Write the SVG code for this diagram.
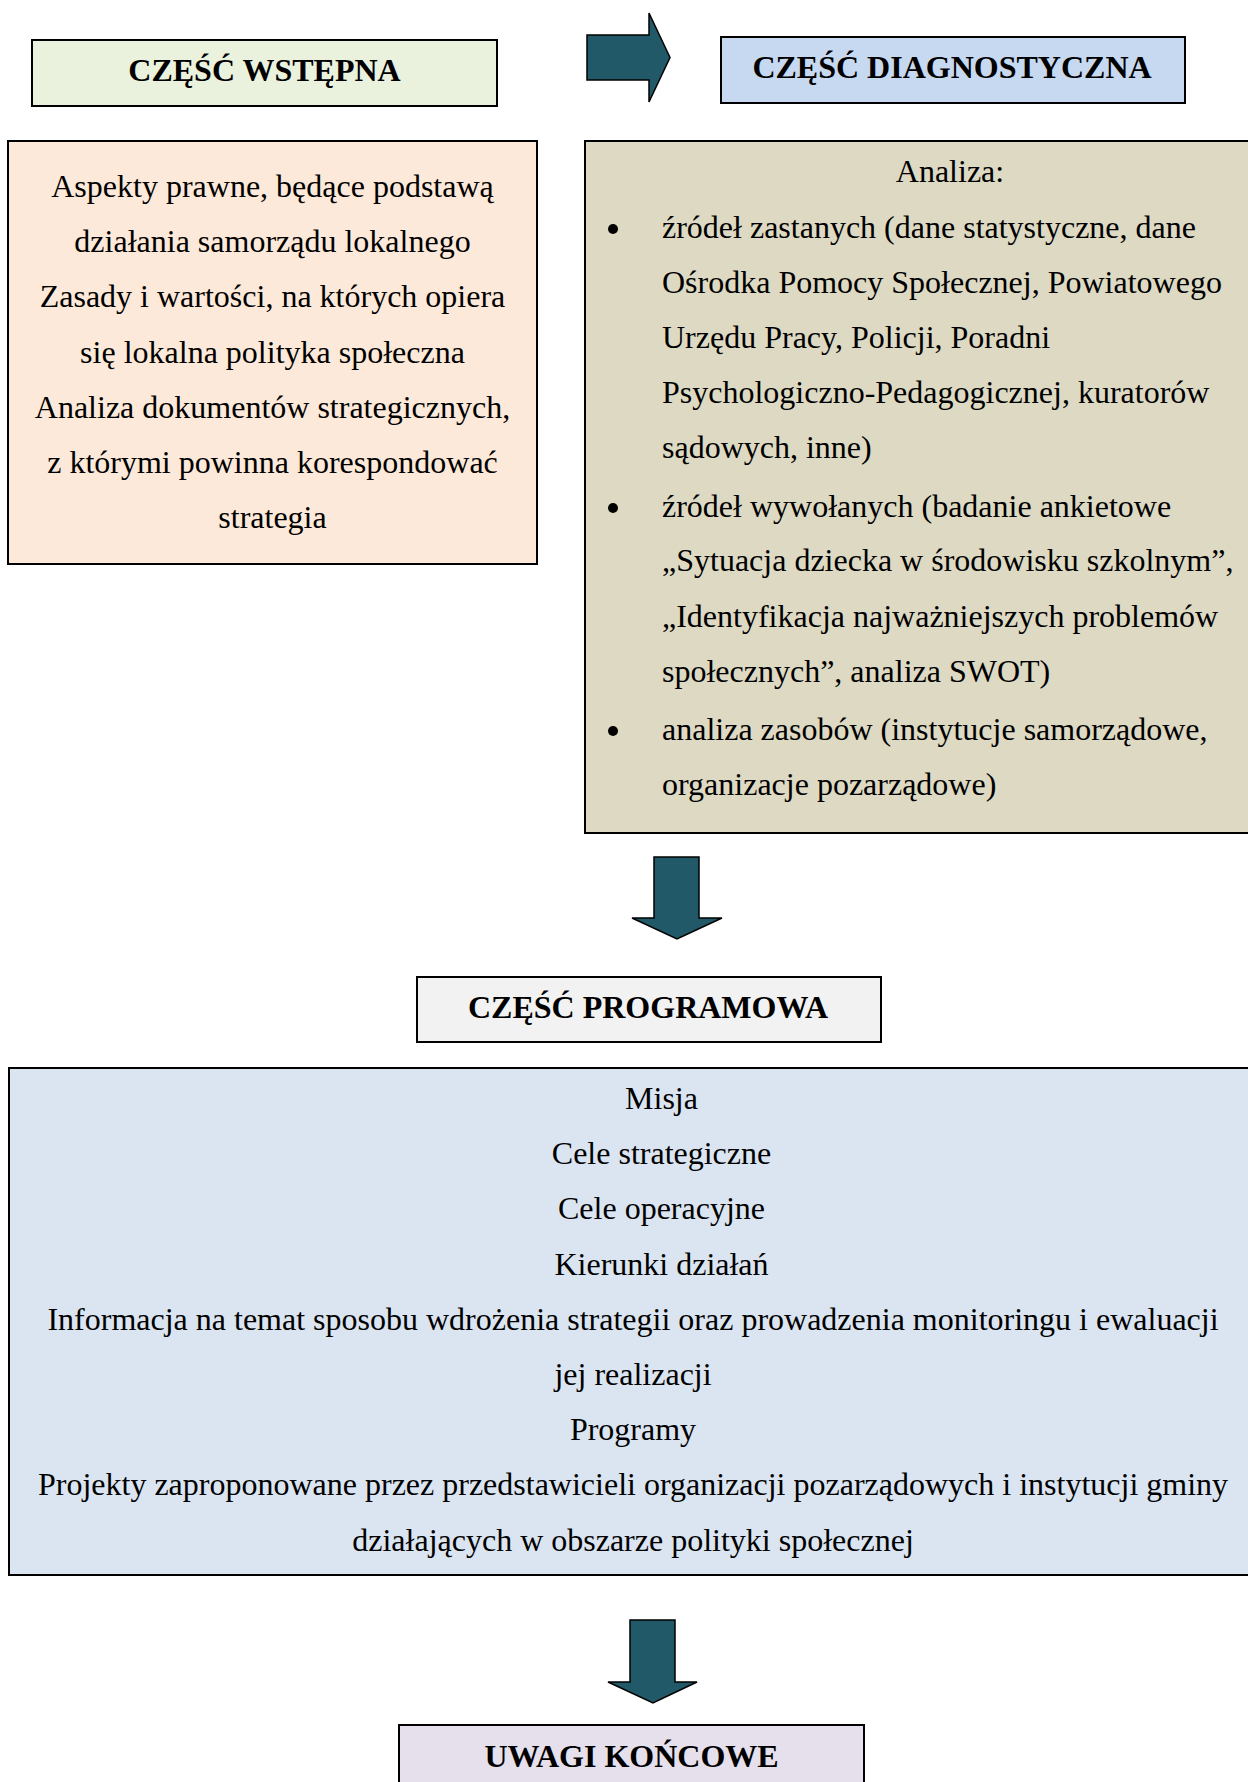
<svg xmlns="http://www.w3.org/2000/svg" width="1248" height="1782" viewBox="0 0 1248 1782">
<style>
  .box { stroke: #000; stroke-width: 2; }
  .title { font-family: "Liberation Serif", "Times New Roman", serif; font-weight: bold; font-size: 32px; fill: #000; text-anchor: middle; }
  .body { font-family: "Liberation Serif", "Times New Roman", serif; font-size: 32px; fill: #000; }
  .c { text-anchor: middle; }
  .arrow { fill: #215968; stroke: #000; stroke-width: 1.5; stroke-linejoin: miter; }
</style>
<rect width="1248" height="1782" fill="#fff"/>

<g id="connectors">
  <path class="arrow" d="M587,35 L649,35 L649,13 L670,57.5 L649,102 L649,80 L587,80 Z"/>
  <path class="arrow" d="M654,857 L699,857 L699,918 L722,918 L677,939 L632,918 L654,918 Z"/>
  <path class="arrow" d="M630,1620 L675,1620 L675,1682 L697,1682 L653,1703 L608,1682 L630,1682 Z"/>
</g>

<g id="czesc-wstepna">
  <rect class="box" x="32" y="40" width="465" height="66" fill="#EAF1DD"/>
  <text class="title" x="264.5" y="81">CZĘŚĆ WSTĘPNA</text>
</g>

<g id="czesc-diagnostyczna">
  <rect class="box" x="721" y="37" width="464" height="66" fill="#C6D9F1"/>
  <text class="title" x="952" y="78">CZĘŚĆ DIAGNOSTYCZNA</text>
</g>

<g id="wstepna-tresc">
  <rect class="box" x="8" y="141" width="529" height="423" fill="#FDE9D9"/>
  <text class="body c" x="272.5" y="197">Aspekty prawne, będące podstawą</text>
  <text class="body c" x="272.5" y="252">działania samorządu lokalnego</text>
  <text class="body c" x="272.5" y="307">Zasady i wartości, na których opiera</text>
  <text class="body c" x="272.5" y="363">się lokalna polityka społeczna</text>
  <text class="body c" x="272.5" y="418">Analiza dokumentów strategicznych,</text>
  <text class="body c" x="272.5" y="473">z którymi powinna korespondować</text>
  <text class="body c" x="272.5" y="528">strategia</text>
</g>

<g id="diagnostyczna-tresc">
  <rect class="box" x="585" y="141" width="680" height="692" fill="#DDD9C3"/>
  <text class="body c" x="950" y="182">Analiza:</text>
  <circle cx="613" cy="229" r="5" fill="#000"/>
  <text class="body" x="662" y="238">źródeł zastanych (dane statystyczne, dane</text>
  <text class="body" x="662" y="293">Ośrodka Pomocy Społecznej, Powiatowego</text>
  <text class="body" x="662" y="348">Urzędu Pracy, Policji, Poradni</text>
  <text class="body" x="662" y="403">Psychologiczno-Pedagogicznej, kuratorów</text>
  <text class="body" x="662" y="458">sądowych, inne)</text>
  <circle cx="613" cy="508" r="5" fill="#000"/>
  <text class="body" x="662" y="517">źródeł wywołanych (badanie ankietowe</text>
  <text class="body" x="662" y="571">„Sytuacja dziecka w środowisku szkolnym”,</text>
  <text class="body" x="662" y="627">„Identyfikacja najważniejszych problemów</text>
  <text class="body" x="662" y="682">społecznych”, analiza SWOT)</text>
  <circle cx="613" cy="731" r="5" fill="#000"/>
  <text class="body" x="662" y="740">analiza zasobów (instytucje samorządowe,</text>
  <text class="body" x="662" y="795">organizacje pozarządowe)</text>
</g>

<g id="czesc-programowa">
  <rect class="box" x="417" y="977" width="464" height="65" fill="#F2F2F2"/>
  <text class="title" x="648" y="1018">CZĘŚĆ PROGRAMOWA</text>
</g>

<g id="programowa-tresc">
  <rect class="box" x="9" y="1068" width="1260" height="507" fill="#DBE5F1"/>
  <text class="body c" x="661.5" y="1109">Misja</text>
  <text class="body c" x="661.5" y="1164">Cele strategiczne</text>
  <text class="body c" x="661.5" y="1219">Cele operacyjne</text>
  <text class="body c" x="661.5" y="1275">Kierunki działań</text>
  <text class="body c" x="633" y="1330">Informacja na temat sposobu wdrożenia strategii oraz prowadzenia monitoringu i ewaluacji</text>
  <text class="body c" x="633" y="1385">jej realizacji</text>
  <text class="body c" x="633" y="1440">Programy</text>
  <text class="body c" x="633" y="1495">Projekty zaproponowane przez przedstawicieli organizacji pozarządowych i instytucji gminy</text>
  <text class="body c" x="633" y="1551">działających w obszarze polityki społecznej</text>
</g>

<g id="uwagi-koncowe">
  <rect class="box" x="399" y="1725" width="465" height="80" fill="#E5E0EC"/>
  <text class="title" x="631.5" y="1767">UWAGI KOŃCOWE</text>
</g>
</svg>
